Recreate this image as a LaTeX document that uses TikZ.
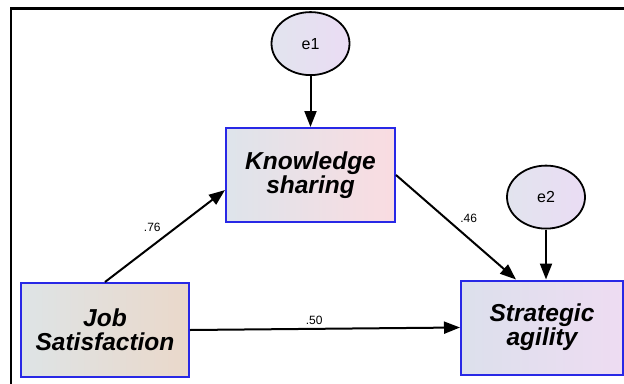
\documentclass[tikz,border=0pt]{standalone}
\usepackage{fontspec}
\setmainfont{Liberation Sans}
\usetikzlibrary{positioning}
\usetikzlibrary{shapes.geometric}
\usetikzlibrary{arrows.meta}

\definecolor{boxblue}{RGB}{40,40,230}
\definecolor{ksleft}{RGB}{222,228,235}
\definecolor{ksright}{RGB}{250,220,225}
\definecolor{jsleft}{RGB}{222,228,230}
\definecolor{jsright}{RGB}{234,216,202}
\definecolor{saleft}{RGB}{220,224,236}
\definecolor{saright}{RGB}{238,220,242}
\definecolor{errleft}{RGB}{226,228,238}
\definecolor{errright}{RGB}{234,220,244}

\begin{document}
\begin{tikzpicture}[x=1pt, y=-1pt,
	var/.style={draw=boxblue, line width=2pt, align=center, minimum width=169pt, minimum height=94pt, font=\fontsize{24.5}{24}\selectfont\bfseries\itshape},
	err/.style={draw, ellipse, line width=1.8pt, minimum width=78pt, minimum height=63pt, inner sep=0pt, left color=errleft, right color=errright, font=\fontsize{16}{18}\selectfont},
	arr/.style={-{Triangle[length=16pt, width=12pt]}, line width=2pt},
	coef/.style={font=\fontsize{12}{13}\selectfont}]
	\useasboundingbox (0,0) rectangle (624,383);
	\draw[line width=2.6pt] (11,8.5) rectangle (700,450);
	% observed variables
	\node[var, left color=ksleft, right color=ksright] (ks) at (310.5,175) {Knowledge\\sharing};
	\node[var, left color=jsleft, right color=jsright, minimum width=168pt] (js) at (105,330) {Job\\Satisfaction};
	\node[var, left color=saleft, right color=saright, minimum width=162pt] (sa) at (542,327.5) {Strategic\\agility};
	% error terms
	\node[err, above=51pt of ks] (e1) {e1};
	\node[err, above=50pt of sa, xshift=4pt] (e2) {e2};
	\draw[arr] (e1) -- (ks);
	\draw[arr] (e2) -- (e2 |- sa.north);
	\draw[arr] (js.north) -- node[coef, pos=0.5, above left] {.76} (ks.190);
	\draw[arr] (ks.east) -- node[coef, above right] {.46} ([xshift=56pt]sa.north west);
	\draw[arr] (js.east) -- node[coef, pos=0.46, above] {.50} (sa.west);
\end{tikzpicture}
\end{document}
